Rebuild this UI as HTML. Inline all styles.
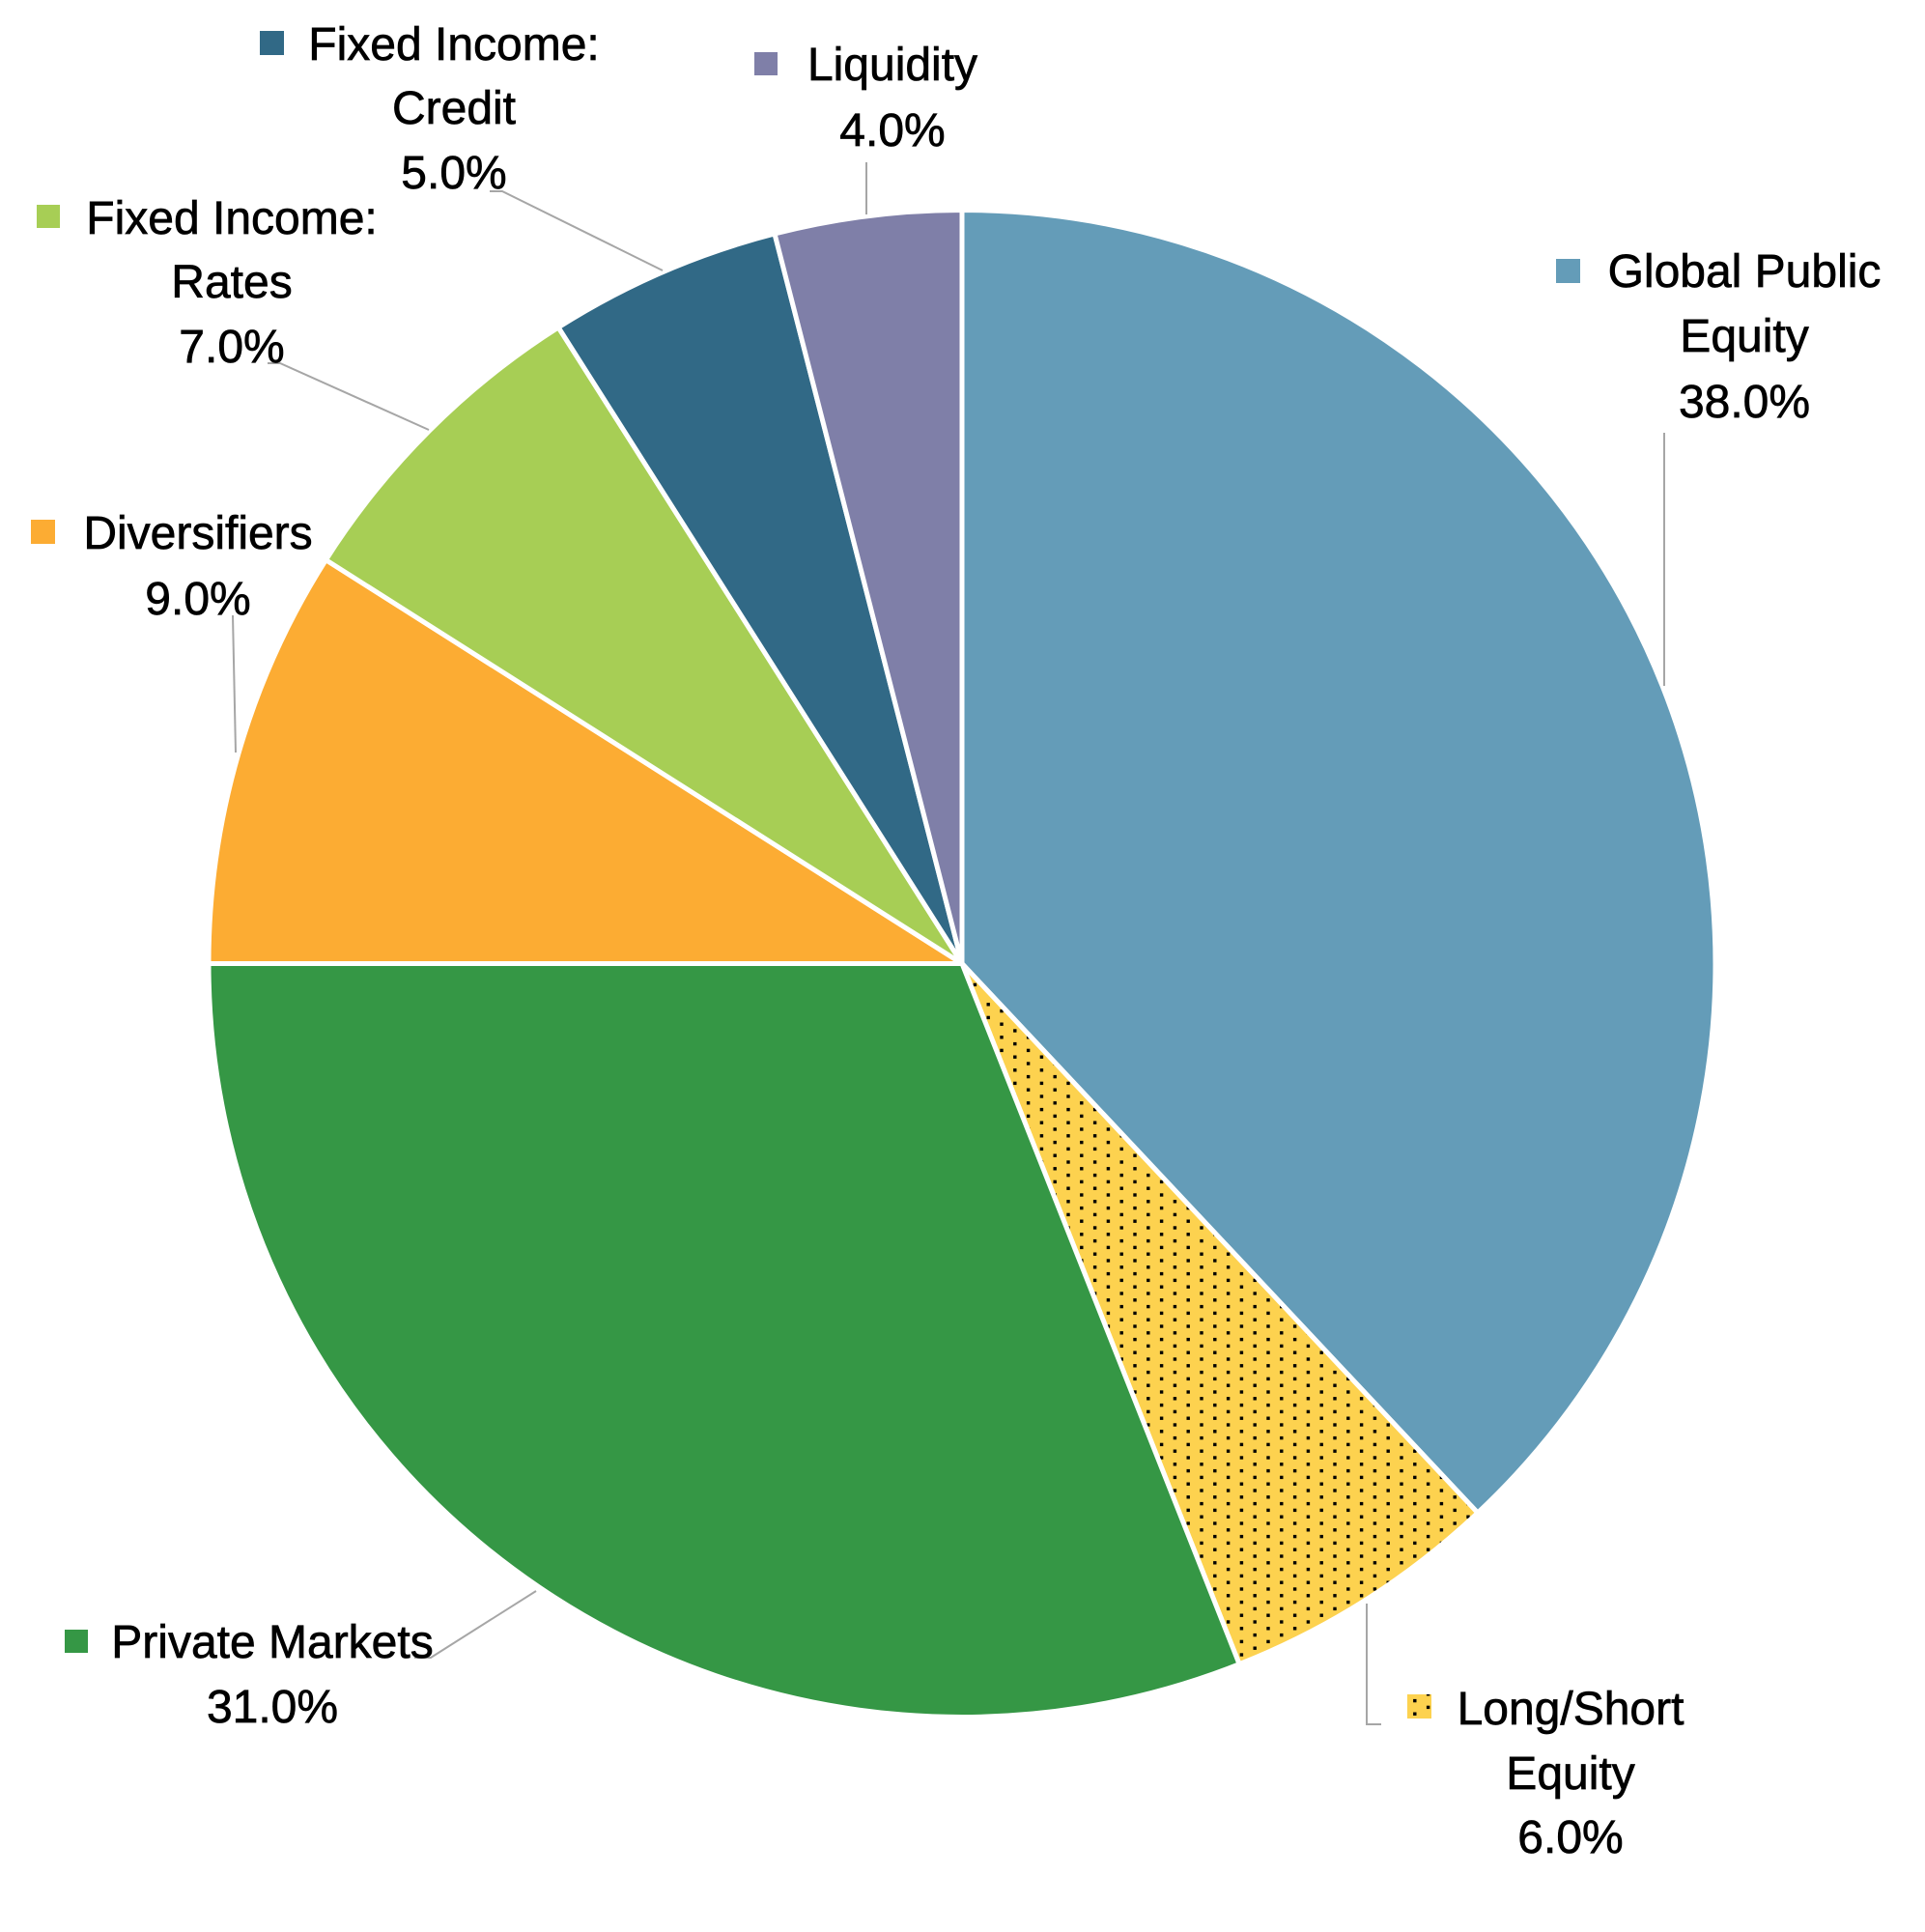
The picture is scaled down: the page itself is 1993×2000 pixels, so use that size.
<!DOCTYPE html>
<html>
<head>
<meta charset="utf-8">
<style>
  html, body { margin: 0; padding: 0; background: #ffffff; }
  svg { display: block; }
  text { font-family: "Liberation Sans", "DejaVu Sans", sans-serif; font-size: 48px; fill: #000000; stroke: #000000; stroke-width: 0.7px; }
</style>
</head>
<body>
<svg width="1993" height="2000" viewBox="0 0 1993 2000" xmlns="http://www.w3.org/2000/svg">
  <defs>
    <pattern id="dots" patternUnits="userSpaceOnUse" x="1104.3" y="1201.3" width="27.6" height="13.6">
      <rect x="0" y="0" width="27.6" height="13.6" fill="#FDD24F"/>
      <rect x="0" y="0" width="3.4" height="3.4" fill="#000"/>
      <rect x="13.8" y="6.8" width="3.4" height="3.4" fill="#000"/>
    </pattern>
  </defs>
  <rect width="1993" height="2000" fill="#ffffff"/>

  <!-- Pie slices -->
  <g stroke="#ffffff" stroke-width="5" stroke-linejoin="round">
    <path d="M996,997.5 L996,217.5 A780,780 0 0,1 1529.9,1566.1 Z" fill="#649CB8"/>
    <path d="M996,997.5 L1529.9,1566.1 A780,780 0 0,1 1283.1,1722.7 Z" fill="url(#dots)"/>
    <path d="M996,997.5 L1283.1,1722.7 A780,780 0 0,1 216,997.5 Z" fill="#359745"/>
    <path d="M996,997.5 L216,997.5 A780,780 0 0,1 337.4,579.6 Z" fill="#FCAC33"/>
    <path d="M996,997.5 L337.4,579.6 A780,780 0 0,1 578.1,338.9 Z" fill="#A7CE55"/>
    <path d="M996,997.5 L578.1,338.9 A780,780 0 0,1 802.0,242.0 Z" fill="#316986"/>
    <path d="M996,997.5 L802.0,242.0 A780,780 0 0,1 996,217.5 Z" fill="#7F7FA8"/>
  </g>

  <!-- Leader lines -->
  <g stroke="#A6A6A6" stroke-width="2" fill="none">
    <polyline points="1723,448 1723,710"/>
    <polyline points="1415,1660 1415,1785 1430,1785"/>
    <polyline points="555,1647 446,1716 429,1716"/>
    <polyline points="241,637 244,779"/>
    <polyline points="277,376 290,376 444,445"/>
    <polyline points="507,198 520,198 686,280"/>
    <polyline points="897,168 897,222"/>
  </g>

  <!-- Legend markers -->
  <rect x="1611" y="268" width="25" height="25" fill="#649CB8"/>
  <rect x="1457" y="1754" width="25" height="25" fill="url(#dots)"/>
  <rect x="67" y="1687" width="24" height="24" fill="#359745"/>
  <rect x="32" y="538" width="25" height="25" fill="#FCAC33"/>
  <rect x="38" y="212" width="24" height="24" fill="#A7CE55"/>
  <rect x="269" y="32" width="25" height="25" fill="#316986"/>
  <rect x="781" y="54" width="24" height="24" fill="#7F7FA8"/>

  <!-- Labels -->
  <g text-anchor="middle">
    <text x="1806" y="297">Global Public</text>
    <text x="1806" y="364">Equity</text>
    <text x="1806" y="432">38.0%</text>

    <text x="1626" y="1785">Long/Short</text>
    <text x="1626" y="1852">Equity</text>
    <text x="1626" y="1918">6.0%</text>

    <text x="282" y="1716">Private Markets</text>
    <text x="282" y="1783">31.0%</text>

    <text x="205" y="568">Diversifiers</text>
    <text x="205" y="636">9.0%</text>

    <text x="240" y="242">Fixed Income:</text>
    <text x="240" y="308">Rates</text>
    <text x="240" y="375">7.0%</text>

    <text x="470" y="62">Fixed Income:</text>
    <text x="470" y="128">Credit</text>
    <text x="470" y="195">5.0%</text>

    <text x="924" y="83">Liquidity</text>
    <text x="924" y="151">4.0%</text>
  </g>
</svg>
</body>
</html>
